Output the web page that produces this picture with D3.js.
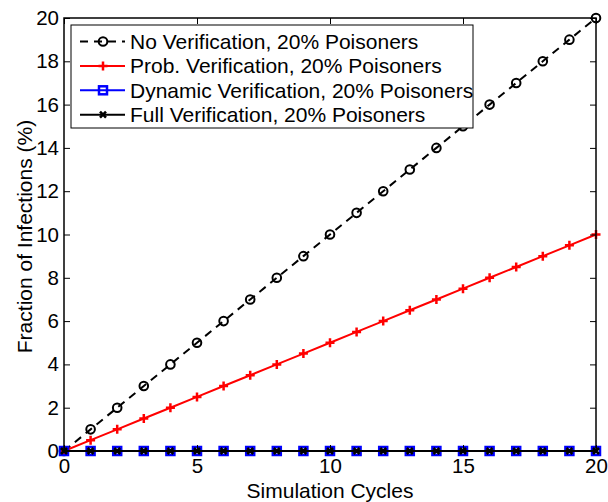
<!DOCTYPE html>
<html>
<head>
<meta charset="utf-8">
<script src="https://cdn.jsdelivr.net/npm/d3@7"></script>
<style>
  body { margin: 0; background: #fff; }
  text { font-family: "Liberation Sans", Arial, sans-serif; }
</style>
</head>
<body>
<div id="chart"></div>
<script>
const width = 608;
const height = 502;
const margin = { left: 64, right: 12, top: 18, bottom: 51 };

// data
const cycles = [0, 1, 2, 3, 4, 5, 6, 7, 8, 9, 10, 11, 12, 13, 14, 15, 16, 17, 18, 19, 20];
const noVerif = [0, 1, 2, 3, 4, 5, 6, 7, 8, 9, 10, 11, 12, 13, 14, 15, 16, 17, 18, 19, 20];
const probVerif = [0, 0.5, 1, 1.5, 2, 2.5, 3, 3.5, 4, 4.5, 5, 5.5, 6, 6.5, 7, 7.5, 8, 8.5, 9, 9.5, 10];
const dynVerif = [0, 0, 0, 0, 0, 0, 0, 0, 0, 0, 0, 0, 0, 0, 0, 0, 0, 0, 0, 0, 0];
const fullVerif = [0, 0, 0, 0, 0, 0, 0, 0, 0, 0, 0, 0, 0, 0, 0, 0, 0, 0, 0, 0, 0];
const seriesNames = [
    'No Verification, 20% Poisoners',
    'Prob. Verification, 20% Poisoners',
    'Dynamic Verification, 20% Poisoners',
    'Full Verification, 20% Poisoners'
];
const xTicks = [0, 5, 10, 15, 20];
const yTicks = [0, 2, 4, 6, 8, 10, 12, 14, 16, 18, 20];

const series = [
    { name: seriesNames[0], values: noVerif, color: '#000', dash: '8,6', marker: 'circle' },
    { name: seriesNames[1], values: probVerif, color: '#ff0000', dash: null, marker: 'plus' },
    { name: seriesNames[2], values: dynVerif, color: '#0000ff', dash: null, marker: 'square' },
    { name: seriesNames[3], values: fullVerif, color: '#000', dash: null, marker: 'cross' }
];

const x = d3.scaleLinear().domain([0, 20]).range([margin.left, width - margin.right]);
const y = d3.scaleLinear().domain([0, 20]).range([height - margin.bottom, margin.top]);

const svg = d3.select('#chart').append('svg')
    .attr('width', width)
    .attr('height', height);

function drawMarker(g, kind, cx, cy, color) {
    if (kind === 'circle') {
        g.append('circle').attr('cx', cx).attr('cy', cy).attr('r', 4.3)
            .attr('fill', 'none').attr('stroke', color).attr('stroke-width', 2);
    } else if (kind === 'plus') {
        g.append('path').attr('d', `M${cx - 4.5},${cy}H${cx + 4.5}M${cx},${cy - 4.5}V${cy + 4.5}`)
            .attr('stroke', color).attr('stroke-width', 2.5);
    } else if (kind === 'square') {
        g.append('rect').attr('x', cx - 4).attr('y', cy - 4).attr('width', 8).attr('height', 8)
            .attr('fill', 'none').attr('stroke', color).attr('stroke-width', 2.5);
    } else if (kind === 'cross') {
        g.append('path').attr('d', `M${cx - 3},${cy - 3}L${cx + 3},${cy + 3}M${cx - 3},${cy + 3}L${cx + 3},${cy - 3}`)
            .attr('stroke', color).attr('stroke-width', 2.6);
    }
}

// series lines
const line = d3.line().x((d, i) => x(cycles[i])).y(d => y(d));
const plot = svg.append('g');
series.forEach(s => {
    plot.append('path')
        .datum(s.values)
        .attr('d', line)
        .attr('fill', 'none')
        .attr('stroke', s.color)
        .attr('stroke-width', 2)
        .attr('stroke-dasharray', s.dash);
    const mg = plot.append('g');
    s.values.forEach((v, i) => drawMarker(mg, s.marker, x(cycles[i]), y(v), s.color));
});

// axes box with inward ticks
const axisG = svg.append('g');
axisG.append('rect')
    .attr('x', x(0)).attr('y', y(20))
    .attr('width', x(20) - x(0)).attr('height', y(0) - y(20))
    .attr('fill', 'none').attr('stroke', '#000').attr('stroke-width', 1.5);

const tickLen = 6;
const axBottom = axisG.append('g').attr('transform', `translate(0,${y(0)})`)
    .call(d3.axisBottom(x).tickValues(xTicks).tickSizeInner(-tickLen).tickSizeOuter(0).tickPadding(7));
const axTop = axisG.append('g').attr('transform', `translate(0,${y(20)})`)
    .call(d3.axisTop(x).tickValues(xTicks).tickSizeInner(-tickLen).tickSizeOuter(0).tickFormat(''));
const axLeft = axisG.append('g').attr('transform', `translate(${x(0)},0)`)
    .call(d3.axisLeft(y).tickValues(yTicks).tickSizeInner(-tickLen).tickSizeOuter(0).tickPadding(5));
const axRight = axisG.append('g').attr('transform', `translate(${x(20)},0)`)
    .call(d3.axisRight(y).tickValues(yTicks).tickSizeInner(-tickLen).tickSizeOuter(0).tickFormat(''));

[axBottom, axTop, axLeft, axRight].forEach(a => {
    a.select('.domain').remove();
    a.selectAll('line').attr('stroke', '#000').attr('stroke-width', 1);
    a.selectAll('text').attr('font-size', 20.5).attr('fill', '#000')
        .style('font-family', '"Liberation Sans", Arial, sans-serif');
});

// axis labels
svg.append('text')
    .attr('x', (x(0) + x(20)) / 2).attr('y', 498)
    .attr('text-anchor', 'middle').attr('font-size', 21)
    .text('Simulation Cycles');
svg.append('text')
    .attr('transform', `translate(32,${(y(0) + y(20)) / 2 + 2}) rotate(-90)`)
    .attr('text-anchor', 'middle').attr('font-size', 21)
    .text('Fraction of Infections (%)');

// legend
const legend = svg.append('g').attr('transform', 'translate(71,25)');
legend.append('rect')
    .attr('width', 402).attr('height', 103)
    .attr('fill', '#fff').attr('stroke', '#000').attr('stroke-width', 1);
series.forEach((s, i) => {
    const ly = 16.5 + i * 24.4;
    const row = legend.append('g');
    row.append('line')
        .attr('x1', 9).attr('x2', 54).attr('y1', ly).attr('y2', ly)
        .attr('stroke', s.color).attr('stroke-width', 2)
        .attr('stroke-dasharray', s.dash);
    drawMarker(row, s.marker, 32, ly, s.color);
    row.append('text')
        .attr('x', 59).attr('y', ly).attr('dy', '0.36em')
        .attr('font-size', 21)
        .text(s.name);
});
</script>
</body>
</html>
